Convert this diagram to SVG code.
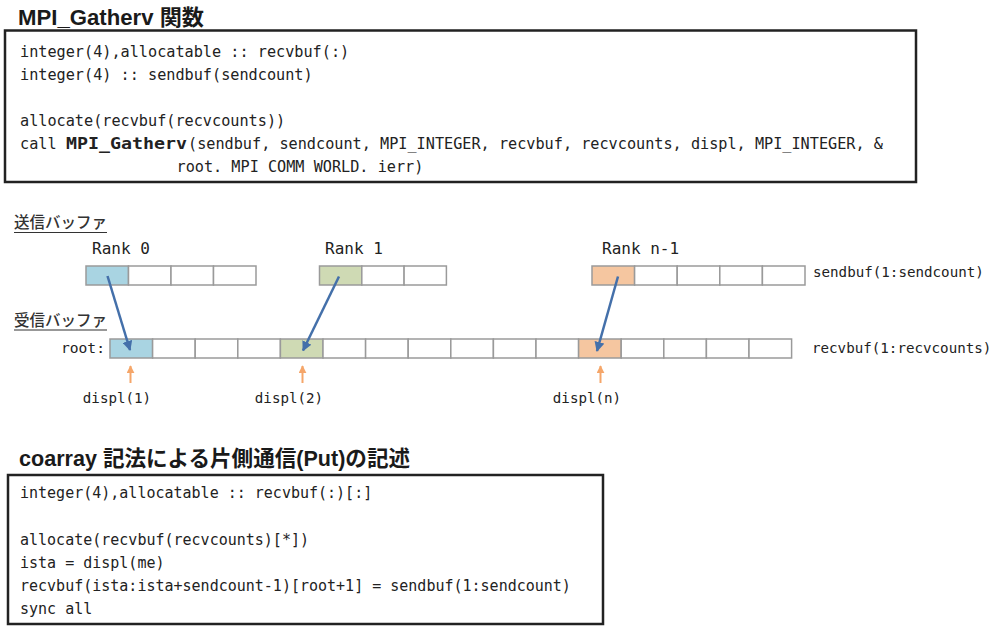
<svg xmlns="http://www.w3.org/2000/svg" width="993" height="626" viewBox="0 0 993 626">
<style>
.title{font-family:"Liberation Sans","Noto Sans CJK JP",sans-serif;font-weight:bold;font-size:21.5px;fill:#1a1a1a}
.code{font-family:"DejaVu Sans Mono","Liberation Mono",monospace;font-size:15.2px;fill:#222}
.code2{font-family:"DejaVu Sans Mono","Liberation Mono",monospace;font-size:15px;fill:#222}
.bold{font-weight:bold}
.box{fill:#fff;stroke:#222;stroke-width:2.5}
.cell{stroke:#9a9a9a;stroke-width:1.5;fill:#fff}
.blue{fill:#a9d4e2}
.green{fill:#cfdab4}
.orange{fill:#f5c6a0}
.lbl{font-family:"DejaVu Sans Mono","Liberation Mono",monospace;fill:#222}
.rank{font-size:16px}
.sm{font-size:14.2px}
.jp{font-family:"Noto Sans CJK JP",sans-serif;font-size:15.5px;fill:#333;font-weight:500}
.ul{stroke:#333;stroke-width:1.2}
.harrow{stroke:#4470aa;stroke-width:2.5;fill:none}
.oarrow{stroke:#f5a66a;stroke-width:2;fill:none}
</style>
<defs>
<marker id="bh" viewBox="0 0 10 10" refX="9" refY="5" markerWidth="4" markerHeight="4" orient="auto" markerUnits="strokeWidth">
<path d="M0,0 L10,5 L0,10 z" fill="#4470aa"/>
</marker>
<marker id="oh" viewBox="0 0 10 10" refX="9" refY="5" markerWidth="4" markerHeight="4" orient="auto" markerUnits="strokeWidth">
<path d="M0,0 L10,5 L0,10 z" fill="#f5a66a"/>
</marker>
<clipPath id="clipBox1"><rect x="0" y="0" width="993" height="175.5"/></clipPath>
</defs>
<rect width="993" height="626" fill="#fff"/>

<g id="code-mpi">
<text class="title" x="18" y="25" textLength="186" lengthAdjust="spacingAndGlyphs">MPI_Gatherv 関数</text>
<rect class="box" x="5" y="30.5" width="911" height="151.5"/>
<text class="code" x="20" y="57">integer(4),allocatable :: recvbuf(:)</text>
<text class="code" x="20" y="80">integer(4) :: sendbuf(sendcount)</text>
<text class="code" x="20" y="126">allocate(recvbuf(recvcounts))</text>
<text class="code" x="20" y="149">call </text>
<text class="code bold" x="66" y="149" textLength="121" lengthAdjust="spacingAndGlyphs">MPI_Gatherv</text>
<text class="code" x="188" y="149">(sendbuf, sendcount, MPI_INTEGER, recvbuf, recvcounts, displ, MPI_INTEGER, &amp;</text>
<text class="code" x="176.5" y="172" clip-path="url(#clipBox1)">root. MPI COMM WORLD. ierr)</text>
</g>

<g id="labels">
<text class="jp" x="14" y="228">送信バッファ</text>
<line class="ul" x1="14" y1="232.5" x2="107" y2="232.5"/>
<text class="jp" x="14" y="325.5">受信バッファ</text>
<line class="ul" x1="14" y1="330" x2="107" y2="330"/>
<text class="lbl sm" x="61" y="353" style="font-size:14.6px">root:</text>
<text class="lbl sm" x="813" y="277">sendbuf(1:sendcount)</text>
<text class="lbl sm" x="812" y="353">recvbuf(1:recvcounts)</text>
</g>

<g id="rank0">
<text class="lbl rank" x="92" y="254">Rank 0</text>
<rect class="cell blue" x="86" y="266" width="42.5" height="19"/>
<rect class="cell" x="128.5" y="266" width="42.5" height="19"/>
<rect class="cell" x="171" y="266" width="42.5" height="19"/>
<rect class="cell" x="213.5" y="266" width="42.5" height="19"/>
</g>

<g id="rank1">
<text class="lbl rank" x="325" y="254">Rank 1</text>
<rect class="cell green" x="319.5" y="266" width="42.3" height="19"/>
<rect class="cell" x="361.8" y="266" width="42.3" height="19"/>
<rect class="cell" x="404.1" y="266" width="42.3" height="19"/>
</g>

<g id="rankn1">
<text class="lbl rank" x="602" y="254">Rank n-1</text>
<rect class="cell orange" x="592" y="266" width="42.6" height="19"/>
<rect class="cell" x="634.6" y="266" width="42.6" height="19"/>
<rect class="cell" x="677.2" y="266" width="42.6" height="19"/>
<rect class="cell" x="719.8" y="266" width="42.6" height="19"/>
<rect class="cell" x="762.4" y="266" width="42.6" height="19"/>
</g>

<g id="recvbuf">
<rect class="cell blue" x="110" y="339" width="42.6" height="19"/>
<rect class="cell" x="152.6" y="339" width="42.6" height="19"/>
<rect class="cell" x="195.2" y="339" width="42.6" height="19"/>
<rect class="cell" x="237.8" y="339" width="42.6" height="19"/>
<rect class="cell green" x="280.4" y="339" width="42.6" height="19"/>
<rect class="cell" x="323" y="339" width="42.6" height="19"/>
<rect class="cell" x="365.6" y="339" width="42.6" height="19"/>
<rect class="cell" x="408.2" y="339" width="42.6" height="19"/>
<rect class="cell" x="450.8" y="339" width="42.6" height="19"/>
<rect class="cell" x="493.4" y="339" width="42.6" height="19"/>
<rect class="cell" x="536" y="339" width="42.6" height="19"/>
<rect class="cell orange" x="578.6" y="339" width="42.6" height="19"/>
<rect class="cell" x="621.2" y="339" width="42.6" height="19"/>
<rect class="cell" x="663.8" y="339" width="42.6" height="19"/>
<rect class="cell" x="706.4" y="339" width="42.6" height="19"/>
<rect class="cell" x="749" y="339" width="42.6" height="19"/>
</g>

<g id="displ">
<text class="lbl sm" x="117" y="403" text-anchor="middle">displ(1)</text>
<text class="lbl sm" x="289" y="403" text-anchor="middle">displ(2)</text>
<text class="lbl sm" x="587" y="403" text-anchor="middle">displ(n)</text>
</g>

<g id="connectors">
<line class="harrow" x1="107.5" y1="276" x2="130" y2="350" marker-end="url(#bh)"/>
<line class="harrow" x1="339" y1="276.5" x2="303" y2="350.5" marker-end="url(#bh)"/>
<line class="harrow" x1="618" y1="276.5" x2="597" y2="351" marker-end="url(#bh)"/>
<line class="oarrow" x1="130.5" y1="383" x2="130.5" y2="366" marker-end="url(#oh)"/>
<line class="oarrow" x1="302.5" y1="383" x2="302.5" y2="366" marker-end="url(#oh)"/>
<line class="oarrow" x1="600.5" y1="383" x2="600.5" y2="366" marker-end="url(#oh)"/>
</g>

<g id="code-coarray">
<text class="title" x="19" y="466" textLength="391" lengthAdjust="spacingAndGlyphs">coarray 記法による片側通信(Put)の記述</text>
<rect class="box" x="8" y="475" width="595" height="149"/>
<text class="code2" x="20" y="498">integer(4),allocatable :: recvbuf(:)[:]</text>
<text class="code2" x="20" y="544.5">allocate(recvbuf(recvcounts)[*])</text>
<text class="code2" x="20" y="567.5">ista = displ(me)</text>
<text class="code2" x="20" y="590.5">recvbuf(ista:ista+sendcount-1)[root+1] = sendbuf(1:sendcount)</text>
<text class="code2" x="20" y="613.5">sync all</text>
</g>
</svg>
